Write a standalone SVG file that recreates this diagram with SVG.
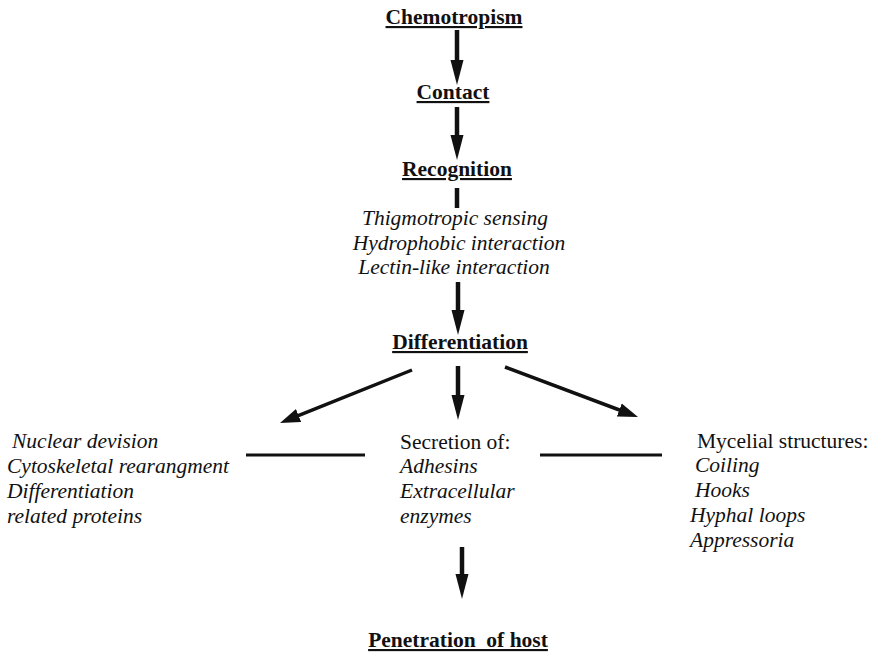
<svg xmlns="http://www.w3.org/2000/svg" width="878" height="656" viewBox="0 0 878 656">
  <style>
    text { font-family: "Liberation Serif", "Times New Roman", serif; font-size: 21.5px; fill: #111; }
    .head { text-anchor: middle; text-decoration: underline; font-weight: bold; }
    .it { font-style: italic; }
    .shaft { stroke: #111; stroke-width: 4.5; fill: none; }
    .diag { stroke: #111; stroke-width: 3.5; fill: none; }
    .rule { stroke: #111; stroke-width: 3; }
  </style>
  <defs>
    <!-- heavy arrowhead for the vertical steps -->
    <marker id="ah" markerUnits="userSpaceOnUse" markerWidth="26" markerHeight="14" viewBox="0 0 26 14" refX="3" refY="7" orient="auto">
      <path d="M0,0.5 L25,7 L0,13.5 Z" fill="#111"/>
    </marker>
    <!-- lighter arrowhead for the slanted branches -->
    <marker id="ahs" markerUnits="userSpaceOnUse" markerWidth="21" markerHeight="15" viewBox="0 0 21 15" refX="3" refY="7.5" orient="auto">
      <path d="M0,0.5 L20,7.5 L0,14.5 Z" fill="#111"/>
    </marker>
  </defs>

  <rect width="878" height="656" fill="#fff"/>

  <!-- connectors -->
  <g id="connectors">
    <line class="shaft" x1="457" y1="30" x2="457" y2="63" marker-end="url(#ah)"/>
    <line class="shaft" x1="457" y1="107" x2="457" y2="138" marker-end="url(#ah)"/>
    <line class="shaft" x1="457" y1="188" x2="457" y2="208"/>
    <line class="shaft" x1="458" y1="282" x2="458" y2="313" marker-end="url(#ah)"/>
    <line class="diag" x1="412" y1="370" x2="295.8" y2="416.7" marker-end="url(#ahs)"/>
    <line class="shaft" x1="458" y1="366" x2="458" y2="398" marker-end="url(#ah)"/>
    <line class="diag" x1="505" y1="367" x2="622.1" y2="411" marker-end="url(#ahs)"/>
    <line class="rule" x1="246" y1="455" x2="365" y2="455"/>
    <line class="rule" x1="540" y1="455" x2="662" y2="455"/>
    <line class="shaft" x1="462" y1="547" x2="462" y2="577" marker-end="url(#ah)"/>
  </g>

  <g id="chemotropism"><text class="head" x="454" y="24">Chemotropism</text></g>
  <g id="contact"><text class="head" x="453" y="99">Contact</text></g>
  <g id="recognition"><text class="head" x="457" y="176">Recognition</text></g>

  <g id="recognition-modes" text-anchor="middle">
    <text class="it" x="455" y="225">Thigmotropic sensing</text>
    <text class="it" x="459" y="250">Hydrophobic interaction</text>
    <text class="it" x="454" y="274">Lectin-like interaction</text>
  </g>

  <g id="differentiation"><text class="head" x="460" y="349">Differentiation</text></g>

  <g id="cellular-changes">
    <text class="it" x="12" y="448">Nuclear devision</text>
    <text class="it" x="7" y="473">Cytoskeletal rearangment</text>
    <text class="it" x="7" y="498">Differentiation</text>
    <text class="it" x="7" y="523">related proteins</text>
  </g>

  <g id="secretion">
    <text x="400" y="449">Secretion of:</text>
    <text class="it" x="400" y="473">Adhesins</text>
    <text class="it" x="400" y="498">Extracellular</text>
    <text class="it" x="400" y="523">enzymes</text>
  </g>

  <g id="mycelial-structures">
    <text x="697" y="448">Mycelial structures:</text>
    <text class="it" x="695" y="472">Coiling</text>
    <text class="it" x="695" y="497">Hooks</text>
    <text class="it" x="690" y="522">Hyphal loops</text>
    <text class="it" x="690" y="547">Appressoria</text>
  </g>

  <g id="penetration"><text class="head" x="458" y="647" xml:space="preserve">Penetration  of host</text></g>
</svg>
